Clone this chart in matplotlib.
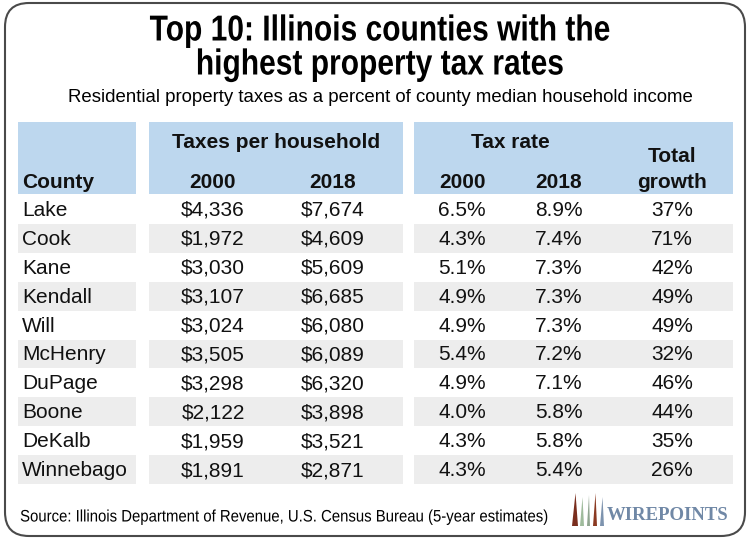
import matplotlib
matplotlib.use("Agg")
import matplotlib.pyplot as plt
from matplotlib import font_manager
from matplotlib.patches import FancyBboxPatch, Rectangle, Polygon
from matplotlib.patheffects import AbstractPathEffect
from matplotlib.transforms import Affine2D

# Data
counties = ["Lake", "Cook", "Kane", "Kendall", "Will", "McHenry", "DuPage",
            "Boone", "DeKalb", "Winnebago"]
taxes_2000 = [4336, 1972, 3030, 3107, 3024, 3505, 3298, 2122, 1959, 1891]
taxes_2018 = [7674, 4609, 5609, 6685, 6080, 6089, 6320, 3898, 3521, 2871]
rate_2000 = [6.5, 4.3, 5.1, 4.9, 4.9, 5.4, 4.9, 4.0, 4.3, 4.3]
rate_2018 = [8.9, 7.4, 7.3, 7.3, 7.3, 7.2, 7.1, 5.8, 5.8, 5.4]
growth = [37, 71, 42, 49, 49, 32, 46, 44, 35, 26]

title_lines = ["Top 10: Illinois counties with the", "highest property tax rates"]
subtitle = "Residential property taxes as a percent of county median household income"
source = "Source: Illinois Department of Revenue, U.S. Census Bureau (5-year estimates)"


class Squeeze(AbstractPathEffect):
    """narrow the glyphs horizontally (no narrow font installed)"""
    def __init__(self, sx=0.82, anchor="center"):
        super().__init__()
        self.sx = sx
        self.anchor = anchor

    def draw_path(self, renderer, gc, tpath, affine, rgbFace=None):
        bb = tpath.get_extents(affine)
        cx = (bb.x0 + bb.x1) / 2 if self.anchor == "center" else bb.x0
        tr = affine + Affine2D().translate(-cx, 0).scale(self.sx, 1).translate(cx, 0)
        renderer.draw_path(gc, tpath, tr, rgbFace)


names = {f.name for f in font_manager.fontManager.ttflist}
FONT = "Liberation Sans" if "Liberation Sans" in names else "DejaVu Sans"
SERIF = "Liberation Serif" if "Liberation Serif" in names else "DejaVu Serif"

HEAD_BLUE = "#bdd7ee"
BAND = "#ededed"

fig = plt.figure(figsize=(7.5, 5.41), dpi=100)
ax = fig.add_axes([0, 0, 1, 1])
ax.set_xlim(0, 750)
ax.set_ylim(541, 0)
ax.axis("off")

# rounded frame
ax.add_patch(FancyBboxPatch((5, 3), 740, 533, boxstyle="round,pad=0,rounding_size=24",
                            fc="white", ec="#4a4a4a", lw=1.5))

# titles
for yy, line in zip([31, 65], title_lines):
    ax.text(380, yy, line, ha="center", va="center", fontsize=26, fontweight="bold",
            family=FONT, path_effects=[Squeeze(0.83)])
ax.text(380, 98, subtitle, ha="center", va="center", fontsize=13.45, family=FONT)

# column groups (x0, x1)
groups = [(18, 136), (149, 403), (414, 733)]
head_top, head_bot = 122, 194
row_h = 28.9

for x0, x1 in groups:
    ax.add_patch(Rectangle((x0, head_top), x1 - x0, head_bot - head_top, fc=HEAD_BLUE, ec="none"))

hkw = dict(fontsize=15, fontweight="bold", family=FONT, va="center", color="#111111")
ax.text(22, 182, "County", ha="left", **hkw)
ax.text(276, 143, "Taxes per household", ha="center", **hkw)
ax.text(213, 182, "2000", ha="center", **hkw)
ax.text(333, 182, "2018", ha="center", **hkw)
ax.text(510, 143, "Tax rate", ha="center", **hkw)
ax.text(462, 182, "2000", ha="center", **hkw)
ax.text(559, 182, "2018", ha="center", **hkw)
ax.text(672, 157, "Total", ha="center", **hkw)
ax.text(672, 182, "growth", ha="center", **hkw)

dkw = dict(fontsize=15, family=FONT, va="center", color="#111111")
for i, c in enumerate(counties):
    top = head_bot + 1 + i * row_h
    if i % 2 == 1:
        for x0, x1 in groups:
            ax.add_patch(Rectangle((x0, top), x1 - x0, row_h, fc=BAND, ec="none"))
    yc = top + row_h / 2 + 1
    ax.text(22, yc, c, ha="left", **dkw)
    ax.text(213, yc, f"${taxes_2000[i]:,}", ha="center", **dkw)
    ax.text(333, yc, f"${taxes_2018[i]:,}", ha="center", **dkw)
    ax.text(462, yc, f"{rate_2000[i]:.1f}%", ha="center", **dkw)
    ax.text(559, yc, f"{rate_2018[i]:.1f}%", ha="center", **dkw)
    ax.text(672, yc, f"{growth[i]}%", ha="center", **dkw)

ax.text(20, 517, source, ha="left", va="center", fontsize=12, family=FONT,
        path_effects=[Squeeze(0.895, anchor="left")])

# logo
bars = [(572, 578, 493, "#7a2e1e"), (580, 584, 497, "#9fbb9c"), (587, 590, 495, "#90a590"),
        (593, 597, 493, "#8b3a22"), (600, 604, 497, "#7d93ae")]
for bx0, bx1, btop, bc in bars:
    ax.add_patch(Polygon([(bx0, 526), (bx1, 526), ((bx0 + bx1) / 2 + 0.5, btop)],
                         closed=True, fc=bc, ec="none"))
ax.text(607, 515, "WIREPOINTS", ha="left", va="center", fontsize=13.5, fontweight="bold",
        family=SERIF, color="#7088a6")

fig.savefig("out.png", dpi=100)
